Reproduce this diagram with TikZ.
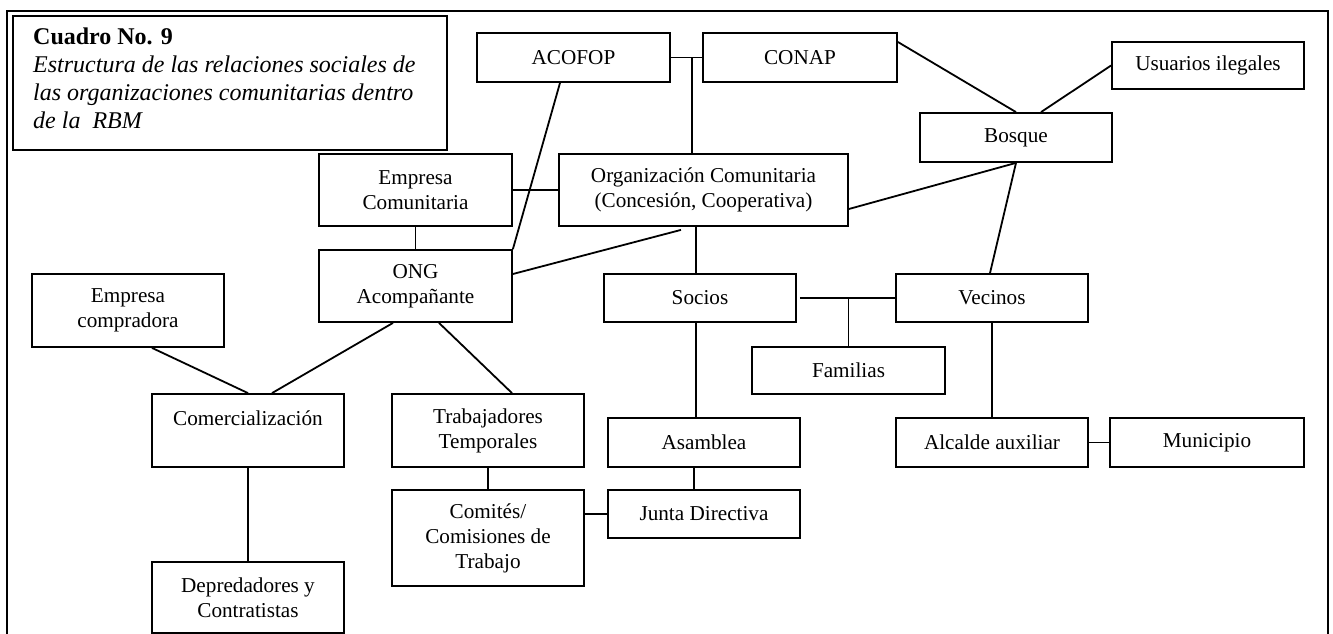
\documentclass[tikz,border=0pt]{standalone}
\usepackage{fontspec}
\setmainfont{Liberation Serif}
\usetikzlibrary{calc}
\newcommand\lblfont{\fontsize{21.2}{25}\selectfont}
\newcommand\ttlfont{\fontsize{24}{28}\selectfont}
\begin{document}
\begin{tikzpicture}[x=1pt,y=-1pt,
  box/.style={draw, line width=1.8pt, inner sep=0pt, align=center, font=\lblfont},
  conn/.style={line width=1.8pt}]
\useasboundingbox (0,0) rectangle (1333,634);
% outer frame
\draw[line width=1.8pt] (7,634) -- (7,11) -- (1328,11) -- (1328,634);
% title box
\node[draw, line width=2.2pt, minimum width=434pt, minimum height=134pt, inner sep=0pt] (title) at (230,83) {};
\node[anchor=north west, inner sep=0pt, align=left, font=\ttlfont] (ttxt) at (33,28)
  {\textbf{Cuadro No. 9}\\ \textit{Estructura de las relaciones sociales de}\\ \textit{las organizaciones comunitarias dentro}\\ \textit{de la\ \ RBM}};
% boxes
\node[box, minimum width=193pt, minimum height=49pt] (acofop) at (573.5,57.5) {ACOFOP};
\node[box, minimum width=194pt, minimum height=49pt] (conap) at (800,57.5) {CONAP};
\node[box, minimum width=192pt, minimum height=47pt] (usuarios) at (1208,65.5) {Usuarios ilegales};
\node[box, minimum width=192pt, minimum height=49pt] (bosque) at (1016,137.5) {Bosque};
\node[box, minimum width=193pt, minimum height=72pt] (empcom) at (415.5,190) {Empresa\\Comunitaria};
\node[box, minimum width=289pt, minimum height=72pt] (org) at (703.5,190) {Organización Comunitaria\\(Concesión, Cooperativa)};
\node[box, minimum width=193pt, minimum height=72pt] (ong) at (415.5,286) {ONG\\Acompañante};
\node[box, minimum width=192pt, minimum height=73pt] (empcomp) at (128,310.5) {Empresa\\compradora};
\node[box, minimum width=192pt, minimum height=48pt] (socios) at (700,298) {Socios};
\node[box, minimum width=192pt, minimum height=48pt] (vecinos) at (992,298) {Vecinos};
\node[box, minimum width=193pt, minimum height=47pt] (familias) at (848.5,370.5) {Familias};
\node[box, minimum width=192pt, minimum height=73pt] (comerc) at (248,430.5) {Comercialización\\\mbox{}};
\node[box, minimum width=192pt, minimum height=73pt] (trab) at (488,430.5) {Trabajadores\\Temporales};
\node[box, minimum width=192pt, minimum height=49pt] (asamblea) at (704,442.5) {Asamblea};
\node[box, minimum width=192pt, minimum height=49pt] (alcalde) at (992,442.5) {Alcalde auxiliar};
\node[box, minimum width=194pt, minimum height=49pt] (municipio) at (1207,442.5) {Municipio};
\node[box, minimum width=192pt, minimum height=96pt] (comites) at (488,538) {Comités/\\Comisiones de\\Trabajo};
\node[box, minimum width=192pt, minimum height=48pt] (junta) at (704,514) {Junta Directiva};
\node[box, minimum width=192pt, minimum height=71pt] (depred) at (248,597.5) {Depredadores y\\Contratistas};
% connectors
\coordinate (j1) at (692,57.5);
\draw[conn] (acofop.east) -- (conap.west);
\draw[conn] (j1) -- (j1 |- org.north);
\draw[conn] ([xshift=-13.5pt]acofop.south) -- (ong.north east);
\draw[conn] ([yshift=15.5pt]conap.east) -- (bosque.north);
\draw[conn] (usuarios.west) -- ([xshift=25pt]bosque.north);
\draw[conn] ([yshift=-19pt]org.east) -- (bosque.south);
\draw[conn] (bosque.south) -- ([xshift=-2pt]vecinos.north);
\draw[conn] (empcom.east) -- (org.west);
\draw[conn] (empcom.south) -- (ong.north);
\draw[conn] ([xshift=-22.5pt,yshift=-3pt]org.south) -- ([yshift=12pt]ong.east);
\draw[conn] ([xshift=-4pt]socios.north) -- ([xshift=-4pt]socios.north |- org.south);
\draw[conn] ([xshift=3pt]socios.east) -- (vecinos.west);
\draw[conn] (familias.north) -- (familias.north |- socios.east);
\draw[conn] ([xshift=-22.5pt]ong.south) -- ([xshift=24pt]comerc.north);
\draw[conn] ([xshift=24pt]empcomp.south) -- (comerc.north);
\draw[conn] ([xshift=23.5pt]ong.south) -- ([xshift=24pt]trab.north);
\draw[conn] (comerc.south) -- (depred.north);
\draw[conn] ([xshift=-4pt]socios.south) -- ([xshift=-4pt]socios.south |- asamblea.north);
\draw[conn] (trab.south) -- (comites.north);
\draw[conn] ([xshift=-10pt]asamblea.south) -- ([xshift=-10pt]junta.north);
\draw[conn] (junta.west -| comites.east) -- (junta.west);
\draw[conn] (vecinos.south) -- (alcalde.north);
\draw[conn] (alcalde.east) -- (municipio.west);
\end{tikzpicture}
\end{document}
